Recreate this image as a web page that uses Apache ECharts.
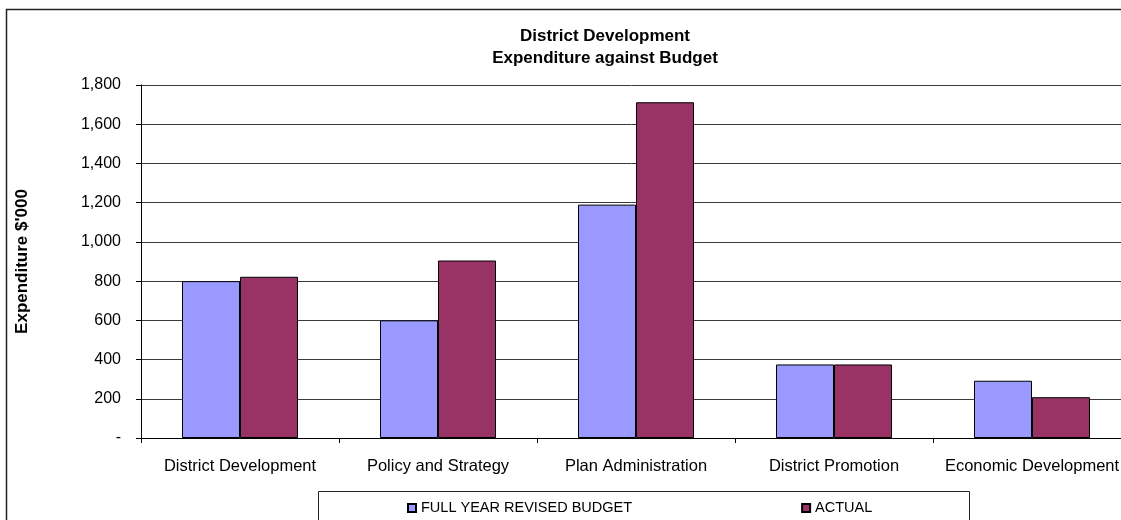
<!DOCTYPE html>
<html>
<head>
<meta charset="utf-8">
<title>District Development - Expenditure against Budget</title>
<script src="https://cdn.jsdelivr.net/npm/echarts@6/dist/echarts.min.js"></script>
<style>
  html, body { margin: 0; padding: 0; background: #ffffff; }
  #chart { width: 1121px; height: 520px; }
</style>
</head>
<body>
<div id="chart"></div>
<script>
// Cost centres shown along the x axis
const categories = [
  'District Development',
  'Policy and Strategy',
  'Plan Administration',
  'District Promotion',
  'Economic Development'
];

// Expenditure in $'000
const budgetValues = [800, 600, 1190, 375, 292];
const actualValues = [822, 905, 1712, 375, 208];

const seriesNames = ['FULL YEAR REVISED BUDGET', 'ACTUAL'];
const titleLines = ['District Development', 'Expenditure against Budget'];
const yAxisTitle = "Expenditure $'000";

const FONT = '"Liberation Sans", Arial, sans-serif';

function formatTick(v) {
  if (v === 0) return '-';
  return String(v).replace(/\B(?=(\d{3})+(?!\d))/g, ',');
}

const chart = echarts.init(document.getElementById('chart'), null, { renderer: 'canvas' });

chart.setOption({
  backgroundColor: '#ffffff',
  animation: false,
  textStyle: { fontFamily: FONT, color: '#000' },
  title: {
    text: titleLines.join('\n'),
    left: 605,
    top: 25,
    padding: 0,
    textAlign: 'center',
    textStyle: {
      fontFamily: FONT,
      fontSize: 17,
      fontWeight: 'bold',
      color: '#000',
      lineHeight: 22
    }
  },
  legend: {
    data: seriesNames,
    left: 407,
    top: 500,
    padding: 0,
    itemWidth: 8,
    itemHeight: 8,
    itemGap: 169,
    icon: 'rect',
    textStyle: { fontFamily: FONT, fontSize: 14.5, color: '#000', lineHeight: 16 }
  },
  grid: {
    left: 141,
    top: 85,
    width: 990,
    height: 353,
    containLabel: false,
    outerBoundsMode: 'none'
  },
  xAxis: {
    type: 'category',
    data: categories,
    axisLine: { lineStyle: { color: '#000', width: 1 } },
    axisTick: { show: true, length: 5, lineStyle: { color: '#000' } },
    axisLabel: {
      fontFamily: FONT,
      fontSize: 16.5,
      color: '#000',
      margin: 20,
      interval: 0
    },
    splitLine: { show: false }
  },
  yAxis: {
    type: 'value',
    min: 0,
    max: 1800,
    interval: 200,
    name: yAxisTitle,
    nameLocation: 'middle',
    nameGap: 110,
    nameRotate: 90,
    nameTextStyle: { fontFamily: FONT, fontSize: 17, fontWeight: 'bold', color: '#000' },
    axisLine: { show: true, lineStyle: { color: '#000', width: 1 } },
    axisTick: { show: true, inside: false, length: 5, lineStyle: { color: '#000' } },
    axisLabel: {
      fontFamily: FONT,
      fontSize: 16,
      color: '#000',
      margin: 20,
      formatter: formatTick
    },
    splitLine: { show: true, lineStyle: { color: '#3a3a3a', width: 1 } }
  },
  series: [
    {
      name: seriesNames[0],
      type: 'bar',
      data: budgetValues,
      barWidth: 58,
      barGap: '0%',
      itemStyle: { color: '#9999FF', borderColor: '#000', borderWidth: 1 }
    },
    {
      name: seriesNames[1],
      type: 'bar',
      data: actualValues,
      barWidth: 58,
      barGap: '0%',
      itemStyle: { color: '#993366', borderColor: '#000', borderWidth: 1 }
    }
  ],
  graphic: [
    {
      // chart area frame
      type: 'rect',
      silent: true,
      z: -1,
      shape: { x: 6.5, y: 9.5, width: 1300, height: 700 },
      style: { fill: null, stroke: '#222', lineWidth: 1.5 }
    },
    {
      // legend frame
      type: 'rect',
      silent: true,
      z: -1,
      shape: { x: 318.5, y: 491.5, width: 651, height: 60 },
      style: { fill: null, stroke: '#222', lineWidth: 1 }
    }
  ]
});
</script>
</body>
</html>
